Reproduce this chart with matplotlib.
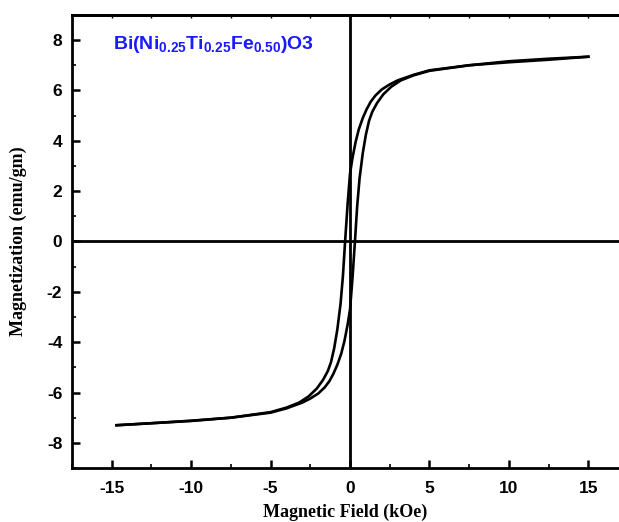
import numpy as np
import matplotlib
matplotlib.use('Agg')
import matplotlib.pyplot as plt

# descending branch (field from +15 to -15)
H_down = [15.0, 12.5, 10.0, 7.5, 5.0, 4.0, 3.0, 2.5, 2.0, 1.6, 1.3, 1.05, 0.8,
          0.55, 0.35, 0.15, 0.0, -0.15, -0.31, -0.45, -0.6, -0.8, -1.0, -1.2,
          -1.4, -1.7, -2.1, -2.6, -3.2, -4.0, -5.0, -7.5, -10.0, -12.5, -14.7]
M_down = [7.34, 7.26, 7.16, 7.0, 6.8, 6.62, 6.4, 6.24, 6.04, 5.8, 5.55, 5.26,
          4.9, 4.45, 3.95, 3.3, 2.7, 1.5, 0.0, -1.4, -2.5, -3.5, -4.25, -4.8,
          -5.15, -5.5, -5.85, -6.15, -6.4, -6.6, -6.78, -7.0, -7.12, -7.22, -7.3]

# ascending branch (field from -15 to +15)
H_up = [-14.7, -12.5, -10.0, -7.5, -5.0, -4.0, -3.0, -2.5, -2.0, -1.6, -1.3,
        -1.05, -0.8, -0.55, -0.35, -0.15, 0.0, 0.15, 0.31, 0.45, 0.6, 0.8, 1.0,
        1.2, 1.4, 1.7, 2.1, 2.6, 3.2, 4.0, 5.0, 7.5, 10.0, 12.5, 15.0]
M_up = [-7.3, -7.22, -7.13, -7.0, -6.8, -6.63, -6.4, -6.24, -6.04, -5.8, -5.55,
        -5.26, -4.9, -4.45, -3.95, -3.3, -2.7, -1.5, 0.0, 1.4, 2.5, 3.5, 4.25,
        4.8, 5.15, 5.5, 5.85, 6.15, 6.4, 6.6, 6.78, 7.0, 7.12, 7.22, 7.34]

x_ticks = [-15, -10, -5, 0, 5, 10, 15]
y_ticks = [-8, -6, -4, -2, 0, 2, 4, 6, 8]

plt.rcParams['axes.unicode_minus'] = False
plt.rcParams['mathtext.fontset'] = 'custom'
plt.rcParams['mathtext.bf'] = 'Liberation Sans:bold'
plt.rcParams['mathtext.rm'] = 'Liberation Sans:bold'

fig = plt.figure(figsize=(6.19, 5.22), dpi=100)
ax = fig.add_axes([0.1163, 0.1034, 0.8837, 0.868])

ax.plot(H_down, M_down, color='black', linewidth=1.9, solid_joinstyle='round')
ax.plot(H_up, M_up, color='black', linewidth=1.9, solid_joinstyle='round')
ax.axhline(0, color='black', linewidth=2.0)
ax.axvline(0, color='black', linewidth=2.0)

ax.set_xlim(-17.5, 16.93)
ax.set_ylim(-9, 9)
ax.set_xticks(x_ticks)
ax.set_yticks(y_ticks)
ax.set_xticks(np.arange(-17.5, 17, 2.5), minor=True)
ax.set_yticks(np.arange(-9, 10, 1), minor=True)

for lab in ax.get_xticklabels() + ax.get_yticklabels():
    lab.set_fontfamily('Liberation Sans')
    lab.set_fontweight('bold')
    lab.set_fontsize(12.5)

ax.tick_params(which='major', direction='in', length=6, width=1.8)
ax.tick_params(axis='x', which='major', pad=9)
ax.tick_params(axis='y', which='major', pad=7)
ax.tick_params(which='minor', direction='in', length=3, width=1.2)

for s in ['left', 'bottom', 'top']:
    ax.spines[s].set_linewidth(2.0)
ax.spines['right'].set_visible(False)

top = ax.secondary_xaxis('top')
top.set_xticks(np.arange(-17.5, 17, 2.5))
top.set_xticklabels([])
top.tick_params(direction='in', length=2.5, width=1.0)
top.spines['top'].set_linewidth(2.0)

ax.set_xlabel('Magnetic Field (kOe)', fontfamily='Liberation Serif',
              fontweight='bold', fontsize=13, labelpad=6)
ax.set_ylabel('Magnetization (emu/gm)', fontfamily='Liberation Serif',
              fontweight='bold', fontsize=13, labelpad=14)

ax.text(-14.9, 7.65, r'$\mathbf{Bi(Ni_{0.25}Ti_{0.25}Fe_{0.50})O3}$',
        color='#1a1aff', fontsize=14)

fig.savefig('out.png', dpi=100)
